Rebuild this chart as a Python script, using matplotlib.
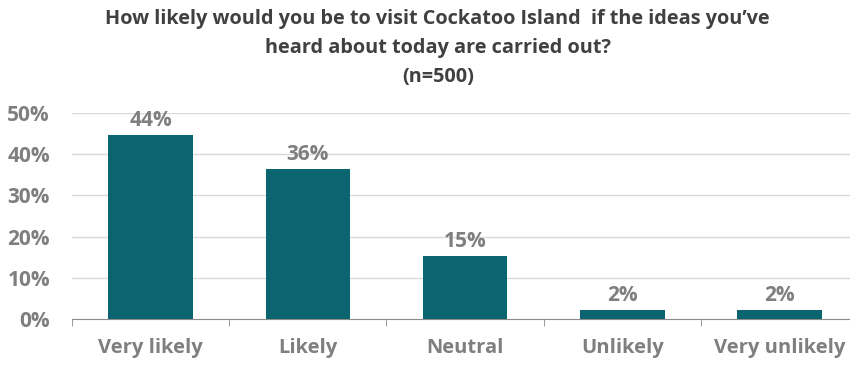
import matplotlib
matplotlib.use("Agg")
import matplotlib.pyplot as plt
import numpy as np

categories = ["Very likely", "Likely", "Neutral", "Unlikely", "Very unlikely"]
values = [44.8, 36.4, 15.4, 2.3, 2.2]
value_labels = ["44%", "36%", "15%", "2%", "2%"]
yticks = [0, 10, 20, 30, 40, 50]
ytick_labels = ["0%", "10%", "20%", "30%", "40%", "50%"]
title = "How likely would you be to visit Cockatoo Island  if the ideas you\u2019ve\nheard about today are carried out?\n(n=500)"

plt.rcParams['font.family'] = ['Open Sans', 'DejaVu Sans']

fig = plt.figure(figsize=(8.5, 3.65), dpi=100)
ax = fig.add_axes([0.085, 0.126, 0.915, 0.564])

bar_color = "#0a6570"
text_gray = "#7f7f7f"
x = np.arange(len(categories))
bars = ax.bar(x, values, width=0.54, color=bar_color, zorder=3)
for xi, v, lab in zip(x, values, value_labels):
    ax.text(xi, v + 0.9, lab, ha="center", va="bottom", fontsize=15,
            fontweight="bold", color=text_gray, clip_on=False)

ax.set_xlim(-0.5, 4.45)
ax.set_ylim(0, 50)
ax.set_yticks(yticks)
ax.set_yticklabels(ytick_labels, fontsize=15, fontweight="bold", color=text_gray)
ax.set_xticks(x)
ax.set_xticklabels(categories, fontsize=14.5, fontweight="bold", color=text_gray)
ax.tick_params(axis="x", which="major", length=0, pad=14)
ax.tick_params(axis="y", length=0, pad=16)
ax.set_xticks(np.arange(-0.5, 4.5, 1.0), minor=True)
ax.tick_params(axis="x", which="minor", length=5, color="#8c8c8c")
for yt in yticks[1:]:
    ax.axhline(yt, color="#d9d9d9", lw=1, zorder=1)
for s in ["top", "right", "left"]:
    ax.spines[s].set_visible(False)
ax.spines["bottom"].set_color("#8c8c8c")

fig.text(0.515, 0.975, title, ha="center", va="top", fontsize=14.3,
         fontweight="bold", color="#404040", linespacing=1.6)

fig.savefig("out.png", dpi=100)
